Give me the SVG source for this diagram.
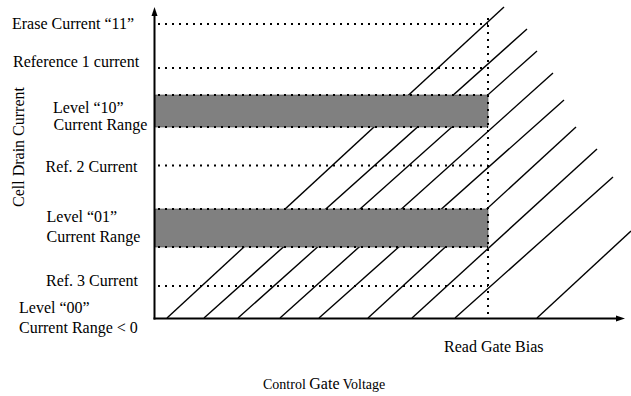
<svg xmlns="http://www.w3.org/2000/svg" width="631" height="396" viewBox="0 0 631 396">
<defs>
<style>
text{font-family:"Liberation Serif","Times New Roman",serif;font-size:16px;fill:#000}
.diag{stroke:#000;stroke-width:1.4;fill:none}
.dot{stroke:#000;stroke-width:2;stroke-dasharray:2 5;fill:none}
.axis{stroke:#000;stroke-width:2;fill:none}
.bar{fill:#808080;stroke:#444;stroke-width:0.6}
</style>
</defs>
<rect width="631" height="396" fill="#fff"/>
<g id="hatch">
<line class="diag" x1="167" y1="318" x2="504" y2="7"/>
<line class="diag" x1="204" y1="318" x2="527" y2="29"/>
<line class="diag" x1="238" y1="318" x2="537" y2="51"/>
<line class="diag" x1="280" y1="318" x2="553" y2="73"/>
<line class="diag" x1="319" y1="318" x2="564" y2="100"/>
<line class="diag" x1="368" y1="318" x2="576" y2="127"/>
<line class="diag" x1="412" y1="318" x2="597" y2="149"/>
<line class="diag" x1="455" y1="318" x2="613" y2="177"/>
<line class="diag" x1="537" y1="318" x2="631" y2="231"/>
</g>
<g id="bar-10">
<rect class="bar" x="155" y="95" width="333" height="32"/>
</g>
<g id="bar-01">
<rect class="bar" x="155" y="209" width="333" height="38"/>
</g>
<g id="levels">
<line class="dot" x1="158" y1="24" x2="488" y2="24"/>
<line class="dot" x1="158" y1="68" x2="488" y2="68"/>
<line class="dot" x1="158" y1="95" x2="488" y2="95"/>
<line class="dot" x1="158" y1="127" x2="488" y2="127"/>
<line class="dot" x1="158" y1="165.5" x2="488" y2="165.5"/>
<line class="dot" x1="158" y1="209" x2="488" y2="209"/>
<line class="dot" x1="158" y1="247" x2="488" y2="247"/>
<line class="dot" x1="158" y1="286" x2="488" y2="286"/>
<line class="dot" x1="488" y1="18" x2="488" y2="318"/>
</g>
<g id="axes">
<line class="axis" x1="154.5" y1="319.5" x2="154.5" y2="14"/>
<polygon points="154.5,7 151.5,16 157.5,16" fill="#000"/>
<line class="axis" x1="153.5" y1="318.5" x2="618" y2="318.5"/>
<polygon points="625,318.5 616,315.5 616,321.5" fill="#000"/>
</g>
<g id="labels">
<text x="12" y="29">Erase Current “11”</text>
<text x="13" y="67">Reference 1 current</text>
<text x="53" y="113">Level “10”</text>
<text x="53.5" y="130">Current Range</text>
<text x="45.5" y="172">Ref. 2 Current</text>
<text x="46.5" y="222">Level “01”</text>
<text x="46.5" y="242">Current Range</text>
<text x="46" y="286">Ref. 3 Current</text>
<text x="19" y="313">Level “00”</text>
<text x="19" y="333">Current Range &lt; 0</text>
<text x="444" y="352">Read Gate Bias</text>
<text x="263" y="389"><tspan style="font-size:14px">Control </tspan>Gate<tspan style="font-size:14px"> Voltage</tspan></text>
<text transform="translate(23.5,147) rotate(-90)" text-anchor="middle">Cell Drain Current</text>
</g>
</svg>
